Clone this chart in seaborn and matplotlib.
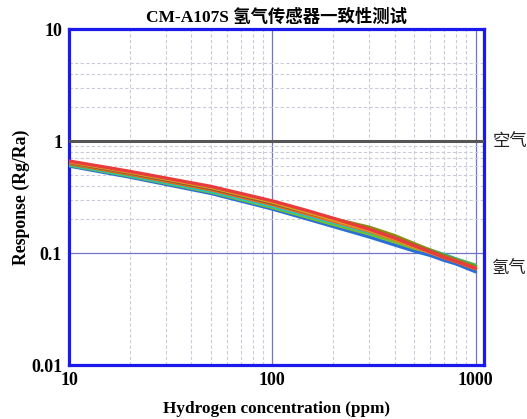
import numpy as np
import pandas as pd
import matplotlib
matplotlib.use("Agg")
import matplotlib.pyplot as plt
import matplotlib.ticker as mticker
import matplotlib.transforms as mtrans
import seaborn as sns

# ---- data ----
conc = [10, 20, 50, 100, 150, 200, 300, 400, 500, 600, 700, 800, 1000]
s1_red    = [0.663, 0.535, 0.393, 0.292, 0.238, 0.204, 0.163, 0.136, 0.116, 0.102, 0.0913, 0.0844, 0.0728]
s2_gold   = [0.653, 0.526, 0.385, 0.285, 0.231, 0.198, 0.160, 0.134, 0.114, 0.101, 0.0913, 0.0844, 0.0728]
s3_brown  = [0.643, 0.516, 0.376, 0.278, 0.228, 0.198, 0.162, 0.136, 0.116, 0.103, 0.0924, 0.0851, 0.0733]
s4_orange = [0.633, 0.507, 0.368, 0.271, 0.222, 0.192, 0.157, 0.132, 0.113, 0.101, 0.0908, 0.0839, 0.0723]
s5_olive  = [0.626, 0.503, 0.367, 0.273, 0.228, 0.202, 0.170, 0.143, 0.121, 0.106, 0.0953, 0.0873, 0.0759]
s6_cyan   = [0.617, 0.492, 0.356, 0.262, 0.215, 0.187, 0.154, 0.134, 0.117, 0.106, 0.0970, 0.0885, 0.0769]
s7_green  = [0.610, 0.486, 0.350, 0.255, 0.208, 0.180, 0.148, 0.126, 0.110, 0.103, 0.0958, 0.0885, 0.0780]
s8_blue   = [0.598, 0.475, 0.340, 0.247, 0.200, 0.172, 0.139, 0.118, 0.104, 0.095, 0.0860, 0.0800, 0.0680]
# drawing order: bottom-most first
series = [s8_blue, s7_green, s6_cyan, s5_olive, s4_orange, s3_brown, s2_gold, s1_red]
names = ["S8", "S7", "S6", "S5", "S4", "S3", "S2", "S1"]
colors = ["#2b6fd6", "#74c02c", "#22c4c8", "#8c8c14", "#f26b1d", "#8c5a32", "#e0a21e", "#e83c3c"]
air_level = 1.0
title = "CM-A107S 氢气传感器一致性测试"
xlabel = "Hydrogen concentration (ppm)"
ylabel = "Response (Rg/Ra)"
air_label = "空气"
h2_label = "氢气"
h2_label_y = 0.074

rows = []
for n, vals in zip(names, series):
    for c, v in zip(conc, vals):
        rows.append({"sensor": n, "conc": c, "resp": v})
df = pd.DataFrame(rows)

sns.set_theme(style="white")
plt.rcParams['font.family'] = ['Liberation Serif', 'Noto Sans CJK SC', 'DejaVu Sans']

fig = plt.figure(figsize=(5.27, 4.19), dpi=100)
ax = fig.add_axes([69/527, 1-365/419, (484-69)/527, (365-29)/419])

ax.set_xscale("log")
ax.set_yscale("log")
ax.set_xlim(10, 1100)
ax.set_ylim(0.01, 10)

minor_x = [20, 30, 40, 50, 60, 70, 80, 90, 200, 300, 400, 500, 600, 700, 800, 900]
minor_y = [2, 3, 4, 5, 0.2, 0.3, 0.4, 0.5, 0.6, 0.7, 0.8, 0.9]
ax.xaxis.set_major_locator(mticker.FixedLocator([10, 100, 1000]))
ax.xaxis.set_minor_locator(mticker.FixedLocator(minor_x))
ax.yaxis.set_major_locator(mticker.FixedLocator([0.01, 0.1, 1, 10]))
ax.yaxis.set_minor_locator(mticker.FixedLocator(minor_y))
ax.xaxis.set_major_formatter(mticker.FixedFormatter(["10", "100", "1000"]))
ax.yaxis.set_major_formatter(mticker.FixedFormatter(["0.01", "0.1", "1", "10"]))
ax.xaxis.set_minor_formatter(mticker.NullFormatter())
ax.yaxis.set_minor_formatter(mticker.NullFormatter())

ax.grid(True, which="minor", color="#cacad8", linestyle=(0, (3, 2)), linewidth=0.8)
ax.grid(True, which="major", color="#7474c8", linestyle="-", linewidth=0.9)

ax.axhline(air_level, color="#555555", linewidth=2.2, zorder=3)

sns.lineplot(data=df, x="conc", y="resp", hue="sensor", palette=colors,
             linewidth=2.4, ax=ax, legend=False, zorder=4)

for sp in ax.spines.values():
    sp.set_color("#1a1aee")
    sp.set_linewidth(2.3)
    sp.set_visible(True)

ax.tick_params(which="both", direction="in", color="#1a1aee", top=False, right=False)
ax.tick_params(which="major", length=6, width=1.8, pad=5, labelsize=13)
ax.tick_params(which="minor", length=3.5, width=1.8)
for lab in ax.get_xticklabels() + ax.get_yticklabels():
    lab.set_fontweight("bold")
    lab.set_color("black")
ax.tick_params(axis="x", pad=5)

ax.set_xlabel(xlabel, fontsize=12.3, fontweight="bold", labelpad=9, color="black")
ax.set_ylabel(ylabel, fontsize=12.8, fontweight="bold", labelpad=1, color="black")
ax.set_title(title, fontsize=12.5, fontweight="bold", pad=5, color="black")

tr = mtrans.blended_transform_factory(ax.transAxes, ax.transData)
ax.text(1.02, air_level, air_label, transform=tr, ha="left", va="center",
        fontsize=12.5, family=['Noto Sans CJK SC'], color="#222222")
ax.text(1.02, h2_label_y, h2_label, transform=tr, ha="left", va="center",
        fontsize=12.5, family=['Noto Sans CJK SC'], color="#222222")

fig.savefig("out.png", dpi=100)
